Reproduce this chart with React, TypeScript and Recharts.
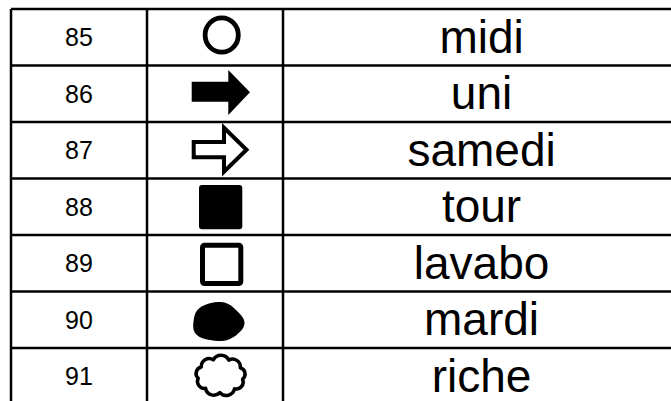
import { ScatterChart, Scatter, XAxis, YAxis, ReferenceLine } from 'recharts';

// table content, one entry per row
const rowNumbers = [85, 86, 87, 88, 89, 90, 91];
const symbols = ['circle', 'arrow', 'arrowOutline', 'square', 'squareOutline', 'blob', 'cloud'];
const words = ['midi', 'uni', 'samedi', 'tour', 'lavabo', 'mardi', 'riche'];

const W = 671;
const H = 401;
// one column unit = 136px, one row unit = 56.5px
const COL = 136;
const ROW = 56.5;
const LEFT = 11;
const TOP = 9;
const xDomain = [-LEFT / COL, (W - LEFT) / COL];
const yDomain = [-TOP / ROW, (H - TOP) / ROW];
const numCol = 0.5;
const symCol = 1.5;
const wordCol = 3.46;

const FONT = '"Liberation Sans", Arial, Helvetica, sans-serif';

const numberData = rowNumbers.map((n, i) => ({ x: numCol, y: i + 0.5, label: n }));
const symbolData = symbols.map((s, i) => ({ x: symCol, y: i + 0.5, kind: s }));
const wordData = words.map((w, i) => ({ x: wordCol, y: i + 0.5, label: w }));

function blobPath(cx: number, cy: number, rx: number, ry: number) {
  const pts: string[] = [];
  const n = 48;
  for (let k = 0; k < n; k++) {
    const t = (k / n) * Math.PI * 2;
    const wob = 1 + 0.035 * Math.sin(3 * t + 0.6) + 0.025 * Math.cos(5 * t);
    pts.push(`${(cx + Math.cos(t) * rx * wob).toFixed(2)},${(cy + Math.sin(t) * ry * wob).toFixed(2)}`);
  }
  return 'M' + pts.join('L') + 'Z';
}

function cloudPath(cx: number, cy: number, rx: number, ry: number) {
  const n = 9;
  const pts: [number, number][] = [];
  for (let k = 0; k < n; k++) {
    const t = (k / n) * Math.PI * 2 + 0.2;
    pts.push([cx + Math.cos(t) * rx, cy + Math.sin(t) * ry]);
  }
  let d = `M${pts[0][0].toFixed(2)},${pts[0][1].toFixed(2)}`;
  for (let k = 1; k <= n; k++) {
    const p = pts[k % n];
    const q = pts[k - 1];
    const chord = Math.hypot(p[0] - q[0], p[1] - q[1]);
    const r = chord * 0.56;
    d += ` A${r.toFixed(2)},${r.toFixed(2)} 0 0 1 ${p[0].toFixed(2)},${p[1].toFixed(2)}`;
  }
  return d + 'Z';
}

function SymbolShape(props: any) {
  const { cx, cy, payload } = props;
  switch (payload.kind) {
    case 'circle':
      return <ellipse cx={cx + 6.7} cy={cy - 2.25} rx={16.6} ry={17.2} fill="none" stroke="#000" strokeWidth={4.8} />;
    case 'arrow': {
      const p = [[-23.3, -12], [13.3, -12], [13.3, -23.75], [35, -1.4], [13.3, 21.25], [13.3, 8], [-23.3, 8]];
      return <polygon points={p.map(([a, b]) => `${cx + a},${cy + b}`).join(' ')} fill="#000" />;
    }
    case 'arrowOutline': {
      const p = [[-21.3, -8.25], [9, -8.25], [9, -22.5], [31.5, -0.5], [9, 21.5], [9, 7], [-21.3, 7]];
      return <polygon points={p.map(([a, b]) => `${cx + a},${cy + b}`).join(' ')} fill="#fff" stroke="#000" strokeWidth={4} />;
    }
    case 'square':
      return <rect x={cx - 16} y={cy - 21.75} width={43.3} height={44.25} rx={3} fill="#000" />;
    case 'squareOutline':
      return <rect x={cx - 12.5} y={cy - 18} width={38.3} height={38.25} rx={2} fill="#fff" stroke="#000" strokeWidth={5} />;
    case 'blob':
      return <path d={blobPath(cx + 2.8, cy + 2.25, 25.5, 19.5)} fill="#000" />;
    case 'cloud':
      return <path d={cloudPath(cx + 5.5, cy - 0.5, 22.5, 16.8)} fill="#fff" stroke="#000" strokeWidth={3.5} strokeLinejoin="round" />;
    default:
      return <g />;
  }
}

function NumberShape(props: any) {
  const { cx, cy, payload } = props;
  return (
    <text x={cx} y={cy + 9} textAnchor="middle" fontSize={25} fontFamily={FONT} fill="#000">
      {payload.label}
    </text>
  );
}

function WordShape(props: any) {
  const { cx, cy, payload } = props;
  return (
    <text x={cx} y={cy + 15.5} textAnchor="middle" fontSize={46} fontFamily={FONT} fill="#000">
      {payload.label}
    </text>
  );
}

export default function App() {
  const rowLines = rowNumbers.map((_, i) => i);
  const colLines = [0, 1, 2];
  return (
    <div style={{ position: 'absolute', left: 0, top: 0, width: W, height: H, background: '#fff' }}>
      <ScatterChart width={W} height={H} margin={{ top: 0, right: 0, bottom: 0, left: 0 }}>
        <XAxis type="number" dataKey="x" domain={xDomain} allowDataOverflow hide />
        <YAxis type="number" dataKey="y" domain={yDomain} allowDataOverflow reversed hide />
        {rowLines.map(r => (
          <ReferenceLine
            key={`h-${r}`}
            segment={[{ x: 0, y: r }, { x: xDomain[1], y: r }]}
            stroke="#000"
            strokeWidth={2.5}
          />
        ))}
        {colLines.map(c => (
          <ReferenceLine
            key={`v-${c}`}
            segment={[{ x: c, y: 0 }, { x: c, y: yDomain[1] }]}
            stroke="#000"
            strokeWidth={2.5}
          />
        ))}
        <Scatter data={numberData} shape={NumberShape} isAnimationActive={false} />
        <Scatter data={symbolData} shape={SymbolShape} isAnimationActive={false} />
        <Scatter data={wordData} shape={WordShape} isAnimationActive={false} />
      </ScatterChart>
    </div>
  );
}
